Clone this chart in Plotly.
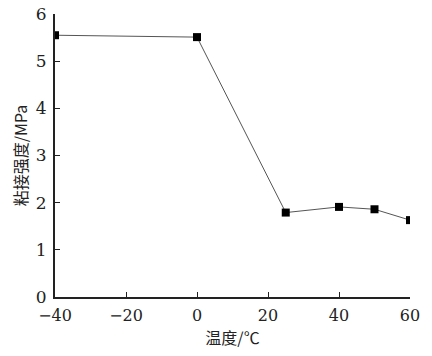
import plotly.graph_objects as go

temps = [-40, 0, 25, 40, 50, 60]
strength = [5.55, 5.51, 1.79, 1.91, 1.86, 1.63]
x_ticks = [-40, -20, 0, 20, 40, 60]
x_labels = ["−40", "−20", "0", "20", "40", "60"]
y_ticks = [0, 1, 2, 3, 4, 5, 6]

serif = "DejaVu Serif"
cjk = "Noto Sans CJK SC"

fig = go.Figure(go.Scatter(
    x=temps, y=strength, mode="lines+markers",
    line=dict(color="#555555", width=1),
    marker=dict(symbol="square", size=8, color="black"),
    cliponaxis=True,
))

fig.update_layout(
    width=432, height=356,
    margin=dict(l=55, r=22, t=14, b=59),
    plot_bgcolor="white", paper_bgcolor="white",
    showlegend=False,
    font=dict(family=serif, size=17, color="#222222"),
)
fig.update_xaxes(
    range=[-40, 60], tickvals=x_ticks, ticktext=x_labels,
    showline=True, linecolor="#222222", linewidth=2,
    ticks="inside", ticklen=5, tickwidth=1, tickcolor="#222222",
    showgrid=False, zeroline=False, automargin=False,
    ticklabeloverflow="allow", ticklabelstandoff=3,
    tickfont=dict(family=serif, size=16),
    title=dict(text="温度/℃", font=dict(size=16, family=cjk), standoff=2),
)
fig.update_yaxes(
    range=[0, 6], tickvals=y_ticks,
    showline=True, linecolor="#222222", linewidth=2,
    ticks="inside", ticklen=5, tickwidth=1, tickcolor="#222222",
    showgrid=False, zeroline=False, automargin=False,
    ticklabeloverflow="allow", ticklabelstandoff=3,
    tickfont=dict(family=serif, size=17),
    title=dict(text="粘接强度/MPa", font=dict(size=16, family=cjk), standoff=4),
)

fig.write_html("out.html", config={"displayModeBar": False},
               post_script="document.body.style.margin='0';")
